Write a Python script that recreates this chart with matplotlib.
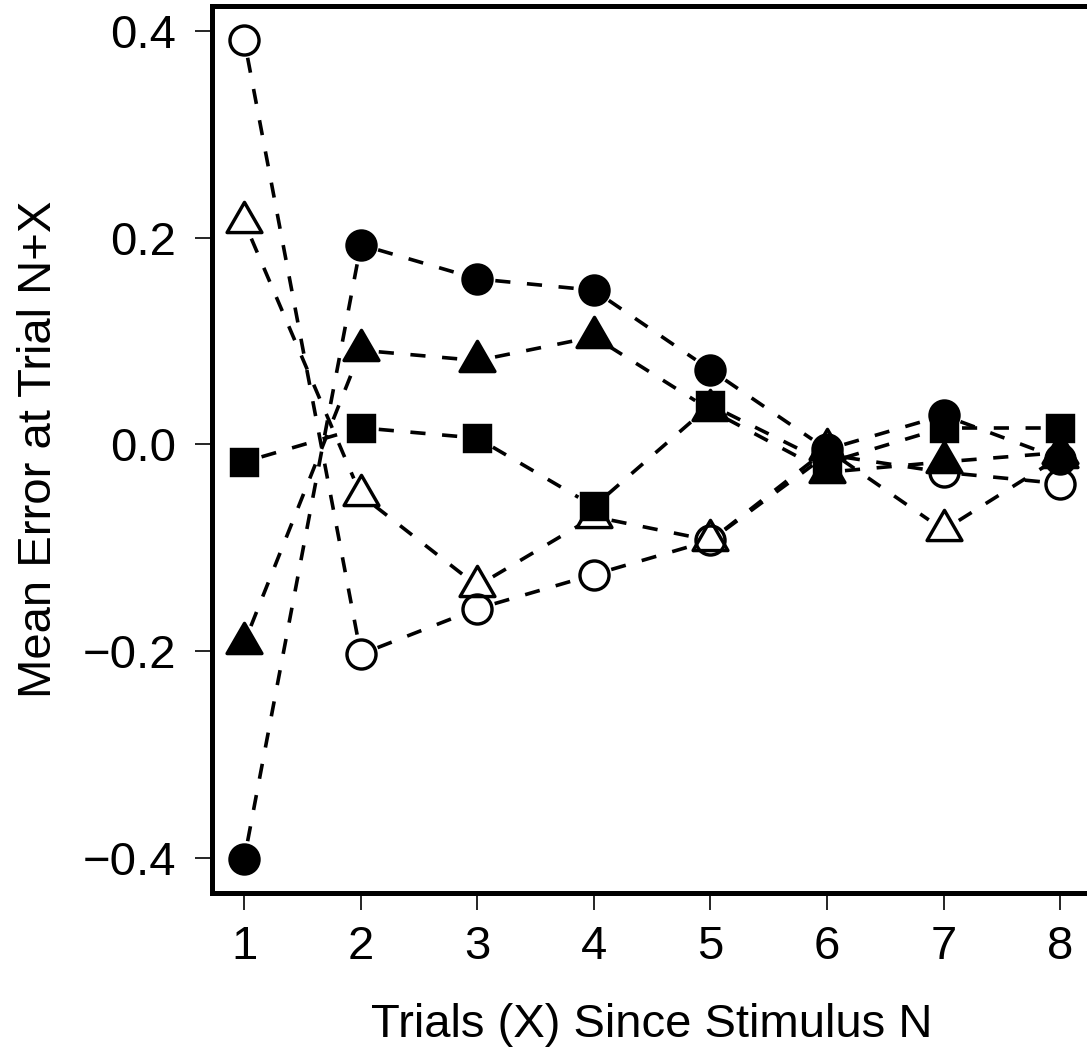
import numpy as np
import matplotlib
matplotlib.use("Agg")
import matplotlib.pyplot as plt
from matplotlib.path import Path

plt.rcParams["font.family"] = ["Liberation Sans", "DejaVu Sans"]

# values
trials = [1, 2, 3, 4, 5, 6, 7, 8]
filled_circle = [-0.401, 0.193, 0.160, 0.149, 0.072, -0.005, 0.028, -0.014]
open_circle = [0.391, -0.203, -0.159, -0.126, -0.093, -0.010, -0.027, -0.038]
open_triangle = [0.215, -0.049, -0.137, -0.070, -0.093, -0.005, -0.083, -0.012]
filled_triangle = [-0.192, 0.091, 0.081, 0.104, 0.033, -0.027, -0.017, -0.008]
filled_square = [-0.017, 0.016, 0.006, -0.060, 0.038, -0.018, 0.016, 0.016]
yticks = [-0.4, -0.2, 0.0, 0.2, 0.4]

# R style triangle, centred on its centroid
tri = Path([(0, 1), (-0.866, -0.5), (0.866, -0.5), (0, 1)],
           [Path.MOVETO, Path.LINETO, Path.LINETO, Path.CLOSEPOLY])

fig = plt.figure(figsize=(10.87, 10.47), dpi=100)
ax = fig.add_axes([0.1947, 0.1471, 0.8106, 0.8472])
ax.set_xlim(0.72, 8.28)
ax.set_ylim(-0.434, 0.424)


def gapped_line(x, y, gap=18):
    # type="b": dashed segments that stop short of each point
    pts = ax.transData.transform(np.column_stack([x, y]))
    inv = ax.transData.inverted()
    for p, q in zip(pts[:-1], pts[1:]):
        d = q - p
        L = np.hypot(*d)
        if L <= 2 * gap:
            continue
        u = d / L
        seg = inv.transform([p + u * gap, q - u * gap])
        ax.plot(seg[:, 0], seg[:, 1], color="k", lw=2.6,
                ls=(0, (4.2, 4.6)), dash_capstyle="butt", zorder=2)


series = [
    (open_circle, "o", "none", 20.9),
    (open_triangle, tri, "none", 29),
    (filled_circle, "o", "k", 20.9),
    (filled_triangle, tri, "k", 29),
    (filled_square, "s", "k", 18.4),
]
for vals, mk, face, ms in series:
    gapped_line(trials, vals)
    ax.plot(trials, vals, ls="none", marker=mk, ms=ms, mfc=face, mec="k",
            mew=2.45, zorder=3)

for s in ax.spines.values():
    s.set_linewidth(3.6)
ax.set_xticks(trials)
ax.set_yticks(yticks)
ax.set_yticklabels(["\u22120.4", "\u22120.2", "0.0", "0.2", "0.4"])
ax.tick_params(direction="out", length=12, width=1.2, labelsize=34)
ax.tick_params(axis="x", pad=11)
ax.tick_params(axis="y", pad=13.5)

ax.set_xlabel("Trials (X) Since Stimulus N", fontsize=34, va="baseline")
ax.xaxis.set_label_coords(0.5, -0.162)
ax.set_ylabel("Mean Error at Trial N+X", fontsize=34, va="baseline")
ax.yaxis.set_label_coords(-0.1823, 0.5)

fig.savefig("out.png", dpi=100)
